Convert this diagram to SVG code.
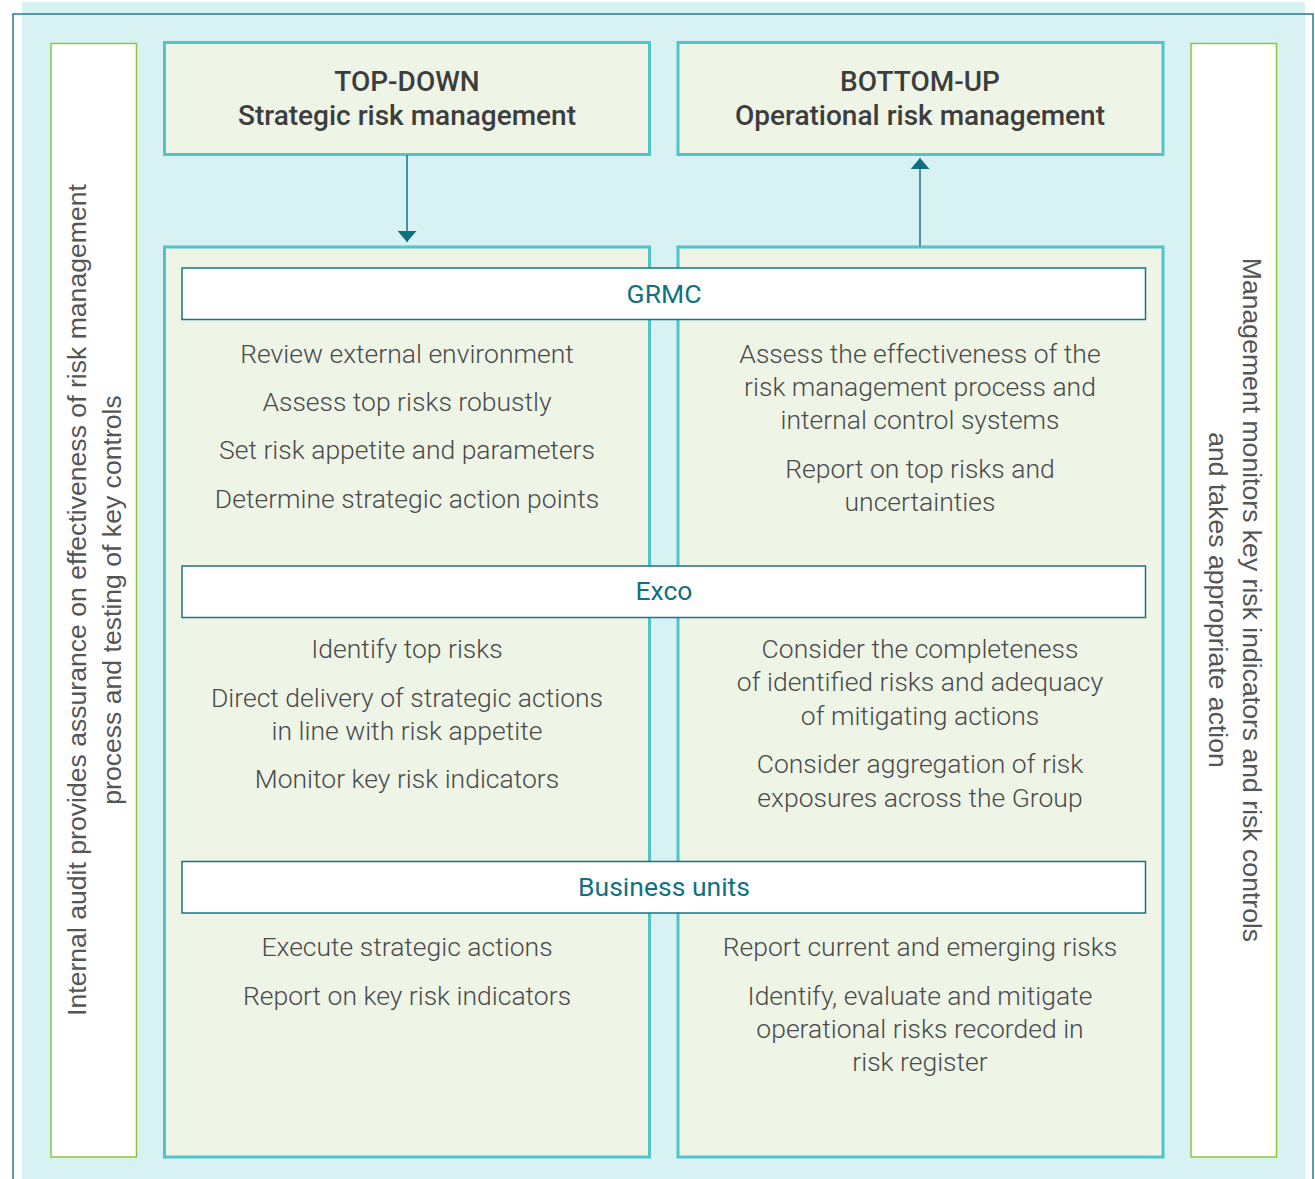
<svg xmlns="http://www.w3.org/2000/svg" width="1315" height="1179" viewBox="0 0 1315 1179">
<defs>
<style>
.bg{fill:#d8f1f2}
.outline{fill:none;stroke:#1f7f8f;stroke-width:1.5}
.side{fill:#ffffff;stroke:#8dc63f;stroke-width:1.5}
.head{fill:#eef5e7;stroke:#4fc4c9;stroke-width:3}
.panel{fill:#eef5e7;stroke:#4fc4c9;stroke-width:3}
.bar{fill:#ffffff;stroke:#1a7384;stroke-width:1.5}
.conn{stroke:#1a7384;stroke-width:1.5;fill:none}
.ht{font-family:Roboto,"Liberation Sans",sans-serif;font-weight:500;font-size:28px;fill:#3d3d3d;text-anchor:middle}
.bt{font-family:Roboto,"Liberation Sans",sans-serif;font-weight:300;font-size:26.5px;fill:#4a4a4a;text-anchor:middle}
.lt{font-family:Roboto,"Liberation Sans",sans-serif;font-weight:400;font-size:26.5px;fill:#0f7282;text-anchor:middle}
.st{font-family:"Liberation Sans",Arial,sans-serif;font-size:26.6px;fill:#555555;text-anchor:middle}
</style>
<marker id="ah" markerWidth="11" markerHeight="19" refX="11" refY="9.5" orient="auto" markerUnits="userSpaceOnUse" viewBox="0 0 11 19">
<path d="M0,0 L11,9.5 L0,19 Z" fill="#0f6f7e"/>
</marker>
</defs>
<rect class="bg" x="22" y="2" width="1283" height="1177"/>
<path class="outline" d="M13,1179 L13,14 L1313,14 L1313,1179"/>

<g id="left-audit">
<rect class="side" x="51" y="43.5" width="85.5" height="1113.5"/>
<text class="st" transform="translate(86,600) rotate(-90)"><tspan x="0" y="0">Internal audit provides assurance on effectiveness of risk management</tspan><tspan x="0" y="35">process and testing of key controls</tspan></text>
</g>

<g id="right-management">
<rect class="side" x="1191" y="43.5" width="85.5" height="1113.5"/>
<text class="st" transform="translate(1243,600) rotate(90)"><tspan x="0" y="0">Management monitors key risk indicators and risk controls</tspan><tspan x="0" y="34">and takes appropriate action</tspan></text>
</g>

<g id="top-down">
<rect class="head" x="164.5" y="42.5" width="485" height="112"/>
<text class="ht" x="407" y="91">TOP-DOWN</text>
<text class="ht" x="407" y="125">Strategic risk management</text>
</g>

<g id="bottom-up">
<rect class="head" x="678" y="42.5" width="485" height="112"/>
<text class="ht" x="920" y="91">BOTTOM-UP</text>
<text class="ht" x="920" y="125">Operational risk management</text>
</g>

<g id="left-panel">
<rect class="panel" x="164.5" y="247" width="485" height="910"/>
</g>
<g id="right-panel">
<rect class="panel" x="678" y="247" width="485" height="910"/>
</g>

<g id="connectors">
<line class="conn" x1="407" y1="155" x2="407" y2="242" marker-end="url(#ah)"/>
<line class="conn" x1="920" y1="246" x2="920" y2="158" marker-end="url(#ah)"/>
</g>

<g id="grmc">
<rect class="bar" x="182" y="268" width="963.5" height="51.5"/>
<text class="lt" x="664" y="303">GRMC</text>
<text class="bt" x="407" y="363">Review external environment</text>
<text class="bt" x="407" y="411">Assess top risks robustly</text>
<text class="bt" x="407" y="459">Set risk appetite and parameters</text>
<text class="bt" x="407" y="508">Determine strategic action points</text>
<text class="bt" x="920" y="363">Assess the effectiveness of the</text>
<text class="bt" x="920" y="396">risk management process and</text>
<text class="bt" x="920" y="429">internal control systems</text>
<text class="bt" x="920" y="478">Report on top risks and</text>
<text class="bt" x="920" y="511">uncertainties</text>
</g>

<g id="exco">
<rect class="bar" x="182" y="566" width="963.5" height="51.5"/>
<text class="lt" x="664" y="600">Exco</text>
<text class="bt" x="407" y="658">Identify top risks</text>
<text class="bt" x="407" y="707">Direct delivery of strategic actions</text>
<text class="bt" x="407" y="740">in line with risk appetite</text>
<text class="bt" x="407" y="788">Monitor key risk indicators</text>
<text class="bt" x="920" y="658">Consider the completeness</text>
<text class="bt" x="920" y="691">of identified risks and adequacy</text>
<text class="bt" x="920" y="725">of mitigating actions</text>
<text class="bt" x="920" y="773">Consider aggregation of risk</text>
<text class="bt" x="920" y="807">exposures across the Group</text>
</g>

<g id="business-units">
<rect class="bar" x="182" y="861.5" width="963.5" height="51.5"/>
<text class="lt" x="664" y="896">Business units</text>
<text class="bt" x="407" y="956">Execute strategic actions</text>
<text class="bt" x="407" y="1005">Report on key risk indicators</text>
<text class="bt" x="920" y="956">Report current and emerging risks</text>
<text class="bt" x="920" y="1005">Identify, evaluate and mitigate</text>
<text class="bt" x="920" y="1038">operational risks recorded in</text>
<text class="bt" x="920" y="1071">risk register</text>
</g>
</svg>
